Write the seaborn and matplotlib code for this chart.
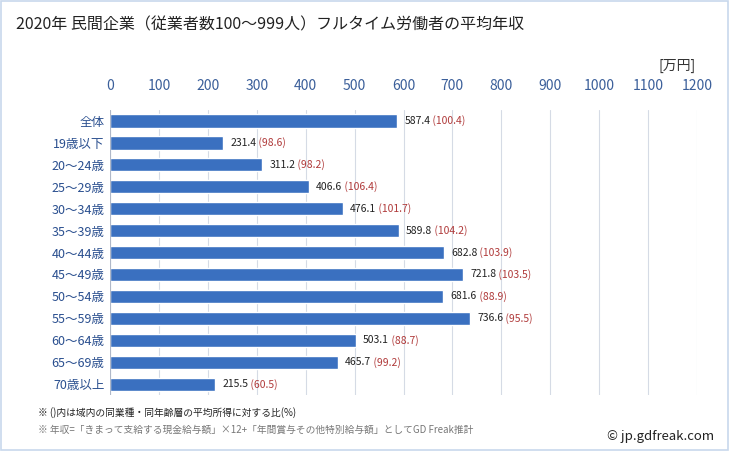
import numpy as np
import pandas as pd
import seaborn as sns
import matplotlib.pyplot as plt
from matplotlib.patches import Rectangle

# -- データ -- #
categories = ["全体", "19歳以下", "20～24歳", "25～29歳", "30～34歳", "35～39歳", "40～44歳",
              "45～49歳", "50～54歳", "55～59歳", "60～64歳", "65～69歳", "70歳以上"]
income = [587.4, 231.4, 311.2, 406.6, 476.1, 589.8, 682.8, 721.8, 681.6, 736.6, 503.1, 465.7, 215.5]
ratio = [100.4, 98.6, 98.2, 106.4, 101.7, 104.2, 103.9, 103.5, 88.9, 95.5, 88.7, 99.2, 60.5]
xticks = list(range(0, 1300, 100))

df = pd.DataFrame({"cat": categories, "income": income, "ratio": ratio})

sns.set_style("white")
plt.rcParams["font.family"] = ["Noto Sans CJK JP", "DejaVu Sans"]

fig = plt.figure(figsize=(7.29, 4.51), dpi=100)
ax = fig.add_axes([0.151, 0.124, 0.805, 0.632])

sns.barplot(data=df, x="income", y="cat", color="#3a70c0", saturation=1,
            width=0.6, ax=ax, zorder=3)

ax.set_xlim(0, 1200)
ax.set_ylim(12.5, -0.5)
ax.set_xticks(xticks)
ax.xaxis.tick_top()
ax.tick_params(axis="x", length=0, labelsize=10, labelcolor="#3b5f9a", pad=12)
ax.tick_params(axis="y", length=0, labelsize=9, labelcolor="#2a4f8f", pad=4)
ax.set_xlabel("")
ax.set_ylabel("")
ax.grid(axis="x", color="#d5dbe5", linewidth=0.8, zorder=0)
for s in ax.spines.values():
    s.set_visible(False)
ax.axvline(0, color="#b0b8c8", linewidth=0.8, zorder=4)

# 値ラベル
for i, (v, r) in enumerate(zip(income, ratio)):
    t = ax.annotate(f"{v:.1f}", (v, i), xytext=(5, 0), textcoords="offset points",
                    va="center", ha="left", fontsize=7.5, color="#222222")
    ax.annotate(f" ({r:.1f})", (1, 0.5), xycoords=t, va="center", ha="left",
                fontsize=7.5, color="#b03a3a")

fig.text(0.022, 0.945, "2020年 民間企業（従業者数100～999人）フルタイム労働者の平均年収",
         fontsize=11.5, color="#222222", va="center")
fig.text(0.955, 0.853, "[万円]", fontsize=10, color="#333333", ha="right", va="center")
fig.text(0.052, 0.085, "※ ()内は域内の同業種・同年齢層の平均所得に対する比(%)",
         fontsize=7, color="#222222", va="center")
fig.text(0.052, 0.048, "※ 年収=「きまって支給する現金給与額」×12+「年間賞与その他特別給与額」としてGD Freak推計",
         fontsize=7, color="#777777", va="center")
fig.text(0.98, 0.032, "© jp.gdfreak.com", fontsize=9.5, color="#222222", ha="right", va="center")

fig.patches.append(Rectangle((0.002, 0.002), 0.996, 0.996, transform=fig.transFigure,
                             fill=False, edgecolor="#c8d8ec", linewidth=1.2))

fig.savefig("out.png", dpi=100)
